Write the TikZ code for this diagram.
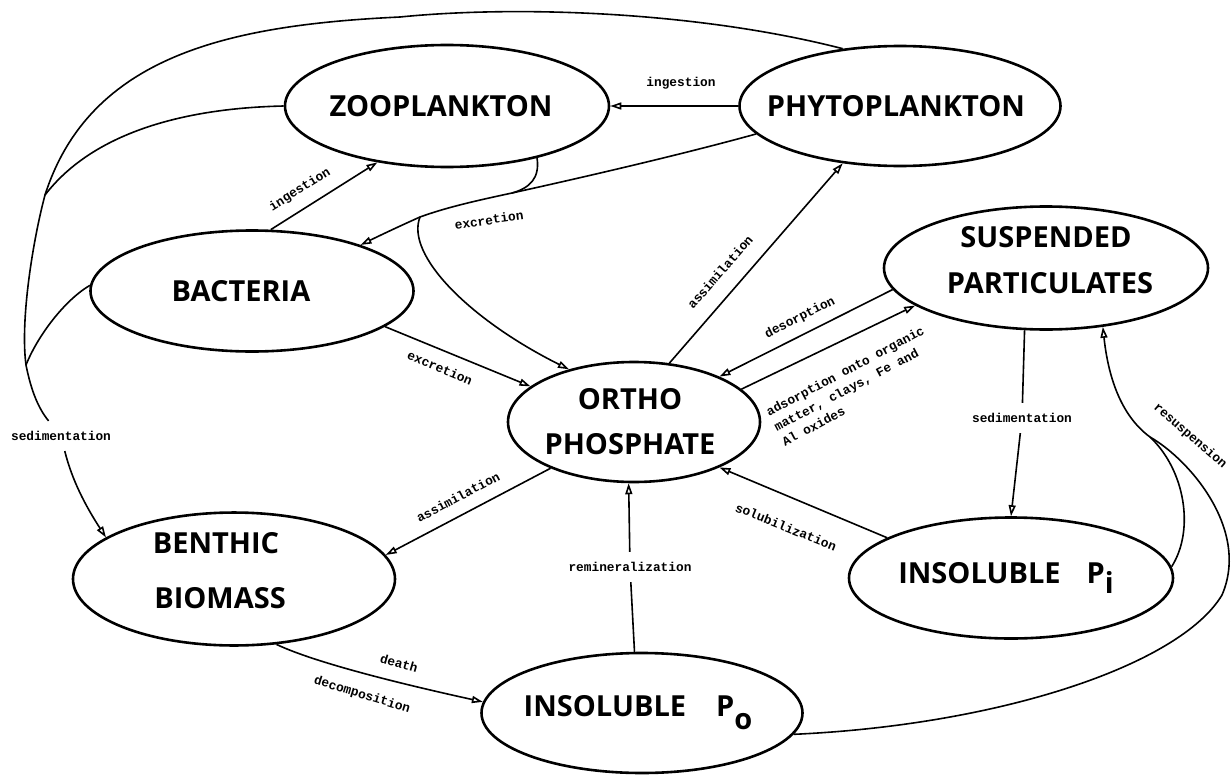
\documentclass[tikz,border=0pt]{standalone}
\usepackage{fontspec}
\usetikzlibrary{shapes.geometric,arrows.meta}
\newfontfamily\nodefont{Open Sans}
\newfontfamily\lblfont{Liberation Mono}
\newcommand\ntext[2][0pt]{\makebox[0pt]{\kern#1\relax#2}}
\begin{document}
\begin{tikzpicture}[x=0.5pt,y=-0.5pt,
  box/.style={ellipse, draw, line width=1.3pt, inner sep=0pt,
    font=\nodefont\bfseries\fontsize{14.5}{23}\selectfont, align=center},
  conn/.style={line width=0.8pt},
  arr/.style={conn, -{Triangle[open,length=5.5pt,width=3.5pt]}},
  lbl/.style={font=\lblfont\bfseries\fontsize{6.4}{8.5}\selectfont, inner sep=1pt},
  gap/.style={lbl, inner xsep=1pt, inner ysep=5pt},
]
\fill[white] (0,0) rectangle (1232,776);
\useasboundingbox (0,0) rectangle (1232,776);

% compartments
\node[box, minimum width=162pt, minimum height=61pt] (zoo) at (447,106) {\ntext[-6pt]{ZOOPLANKTON}};
\node[box, minimum width=160.5pt, minimum height=60pt] (phyto) at (900,106) {\ntext[-4pt]{PHYTOPLANKTON}};
\node[box, minimum width=162pt, minimum height=61.5pt] (susp) at (1046,268) {\ntext{SUSPENDED}\\\ntext[4pt]{PARTICULATES}\rule[-8pt]{0pt}{0pt}};
\node[box, minimum width=161.5pt, minimum height=60.5pt] (bact) at (252,291) {\ntext[-11pt]{BACTERIA}};
\node[box, minimum width=126pt, minimum height=60pt] (ortho) at (634,422) {\ntext[-4pt]{ORTHO}\\[-0.5pt]\ntext[-4pt]{PHOSPHATE}};
\node[box, minimum width=161pt, minimum height=61pt] (benth) at (234,579) {\ntext[-18pt]{BENTHIC}\\[4.5pt]\ntext[-14pt]{BIOMASS}\rule[-9pt]{0pt}{0pt}};
\node[box, minimum width=162pt, minimum height=60.5pt] (pi) at (1011,578) {\ntext[-5pt]{INSOLUBLE\hspace{13pt}P\raisebox{-5pt}{i}}};
\node[box, minimum width=160.5pt, minimum height=60pt] (po) at (642,713) {\ntext[-4pt]{INSOLUBLE\hspace{15pt}P\raisebox{-6.5pt}{o}}};

% labels
\node[lbl] (lIng1) at (681,83) {ingestion};
\node[lbl, rotate=32] (lIng2) at (300,190) {ingestion};
\node[lbl, rotate=8] (lExc1) at (489,220) {excretion};
\node[lbl, rotate=49] (lAss1) at (720,272) {assimilation};
\node[lbl, rotate=-23] (lExc2) at (440,368) {excretion};
\node[lbl, rotate=27] (lDes) at (800,318) {desorption};
\node[lbl, rotate=28, align=left] (lAds) at (853,386) {adsorption onto organic\\matter, clays, Fe and\\Al oxides};
\node[gap] (lSedL) at (61,436) {sedimentation};
\node[lbl, rotate=28] (lAss2) at (458,497) {assimilation};
\node[gap] (lRem) at (630,567) {remineralization};
\node[lbl, rotate=-22] (lSol) at (786,527) {solubilization};
\node[gap] (lSedR) at (1022,418) {sedimentation};
\node[lbl, rotate=-16] (lDeath) at (399,663) {death};
\node[lbl, rotate=-17] (lDec) at (362,695) {decomposition};
\node[lbl, rotate=-41] (lRes) at (1190,436) {resuspension};

% junction points
\coordinate (j1) at (512,193);
\coordinate (j2) at (420,217);
\coordinate (ja) at (45,195);
\coordinate (jb) at (26,365);
\coordinate (jr) at (1150,437);

% connectors
\draw[arr] (phyto.west) -- (zoo.east);
\draw[arr] (bact.73) -- (zoo.219);
\draw[arr] (phyto.191) .. controls (680,155) and (580,178) .. (j1)
  .. controls (470,202) and (445,208) .. (j2)
  .. controls (400,226) and (385,233) .. (bact.23);
\draw[conn] (zoo.-30) .. controls (540,178) and (530,188) .. (j1);
\draw[arr] (j2) .. controls (405,255) and (470,320) .. (ortho.141);
\draw[arr] (ortho.59) -- (phyto.225);
\draw[arr] (bact.-15) -- (ortho.161);
\draw[arr] (susp.188) -- (ortho.28);
\draw[arr] (ortho.17) -- (susp.196);
\draw[arr] (ortho.209) -- (benth.9);
\draw[conn] (susp.251) -- (lSedR);
\draw[arr] (lSedR) -- (pi.north);
\draw[arr] (pi.162) -- (ortho.-28);
\draw[conn] (po.97) -- (lRem);
\draw[arr] (lRem) -- (ortho.265);
\draw[arr] (benth.-57) .. controls (320,665) and (420,688) .. (po.176);
\draw[arr] (po.-8) .. controls (1000,725) and (1180,665) .. (1222,595)
  .. controls (1250,530) and (1190,460) .. (jr)
  .. controls (1120,415) and (1108,375) .. (susp.-46);
\draw[conn] (pi.4) .. controls (1195,530) and (1185,470) .. (jr);
\draw[conn] (phyto.135) .. controls (700,12) and (520,5) .. (400,17)
  .. controls (230,25) and (90,55) .. (ja)
  .. controls (33,240) and (20,320) .. (jb)
  .. controls (31,390) and (38,408) .. (lSedL);
\draw[conn] (zoo.west) .. controls (190,108) and (95,130) .. (ja);
\draw[conn] (bact.178) .. controls (65,300) and (38,335) .. (jb);
\draw[arr] (lSedL) .. controls (72,480) and (85,505) .. (benth.162);
\end{tikzpicture}
\end{document}
